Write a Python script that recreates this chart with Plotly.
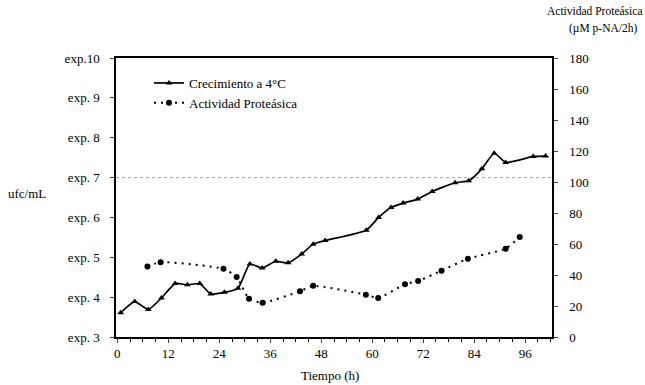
import plotly.graph_objects as go

# Growth at 4°C (log10 ufc/mL)
growth_h = [0.8, 4.1, 7.3, 10.4, 13.6, 16.5, 19.4, 22.0, 25.2, 28.4, 31.2, 34.1, 37.3, 40.2,
            43.4, 46.1, 48.9, 58.6, 61.5, 64.4, 67.3, 70.7, 74.1, 79.5, 82.7, 85.8, 88.7,
            91.4, 97.9, 100.8]
growth_v = [3.61, 3.89, 3.69, 3.98, 4.34, 4.31, 4.34, 4.08, 4.12, 4.22, 4.83, 4.73, 4.90, 4.86,
            5.08, 5.33, 5.42, 5.68, 6.00, 6.25, 6.36, 6.46, 6.65, 6.87, 6.92, 7.22, 7.61,
            7.38, 7.53, 7.54]

# Protease activity (µM p-NA/2h)
prot_h = [7.1, 10.2, 25.0, 28.1, 31.0, 34.2, 43.0, 46.1, 58.5, 61.4, 67.7, 70.8, 76.3, 82.5,
          91.4, 94.7]
prot_v = [45.5, 48.3, 44.0, 38.7, 24.7, 22.1, 29.5, 33.0, 27.3, 25.1, 34.1, 36.1, 42.8, 50.5,
          57.0, 64.5]

left_ticks = [3, 4, 5, 6, 7, 8, 9, 10]
left_labels = ["exp. 3", "exp. 4", "exp. 5", "exp. 6", "exp. 7", "exp. 8", "exp. 9", "exp.10"]
right_ticks = [0, 20, 40, 60, 80, 100, 120, 140, 160, 180]
x_ticks = [0, 12, 24, 36, 48, 60, 72, 84, 96]

FONT = "Liberation Serif"
L, R, T, B = 116, 93, 58, 48
W, H = 645, 385
PW, PH = W - L - R, H - T - B


def px(x):
    return (x - L) / PW


def py(y):
    return (H - B - y) / PH


fig = go.Figure()
fig.add_trace(go.Scatter(
    x=growth_h, y=growth_v, mode="lines+markers", name="Crecimiento a 4°C",
    line=dict(color="black", width=1.7, shape="spline", smoothing=0.5),
    marker=dict(symbol="triangle-up", size=6, color="black"),
    yaxis="y"))
fig.add_trace(go.Scatter(
    x=prot_h, y=prot_v, mode="lines+markers", name="Actividad Proteásica",
    line=dict(color="black", width=2, dash="2px,5px", shape="spline", smoothing=0.5),
    marker=dict(symbol="circle", size=6, color="black"),
    yaxis="y2"))

# faint dotted line at exp. 7
fig.add_shape(type="line", xref="paper", x0=0, x1=1, yref="y", y0=7, y1=7,
              line=dict(color="#aaaaaa", width=1, dash="dot"), layer="below")

fig.update_layout(
    width=W, height=H,
    margin=dict(l=L, r=R, t=T, b=B),
    paper_bgcolor="white", plot_bgcolor="white",
    font=dict(family=FONT, size=13, color="black"),
    showlegend=True,
    legend=dict(x=px(149), y=py(68), xanchor="left", yanchor="top",
                bgcolor="rgba(0,0,0,0)", font=dict(family=FONT, size=13),
                tracegroupgap=0, itemwidth=30),
    xaxis=dict(range=[-0.3, 102.3], tickvals=x_ticks, ticks="outside", ticklen=4,
               showline=True, linecolor="black", linewidth=1.5, mirror=True,
               showgrid=False, zeroline=False,
               minor=dict(dtick=3, ticks="outside", ticklen=3, tickcolor="black"),
               tickfont=dict(family=FONT, size=13)),
    yaxis=dict(range=[3, 10], tickvals=left_ticks, ticktext=left_labels,
               ticks="outside", ticklen=4, showline=True, linecolor="black", linewidth=1.5,
               showgrid=False, zeroline=False, ticklabelstandoff=8,
               tickfont=dict(family=FONT, size=13)),
    yaxis2=dict(range=[0, 180], tickvals=right_ticks, overlaying="y", side="right",
                ticks="outside", ticklen=4, showline=True, linecolor="black", linewidth=1.5,
                showgrid=False, zeroline=False, ticklabelstandoff=9,
                tickfont=dict(family=FONT, size=13)),
)

fig.add_annotation(text="ufc/mL", xref="paper", yref="paper", x=px(6), y=py(193),
                   xanchor="left", yanchor="middle", showarrow=False,
                   font=dict(family=FONT, size=13))
fig.add_annotation(text="Tiempo (h)", xref="paper", yref="paper", x=px(330), y=py(375),
                   xanchor="center", yanchor="middle", showarrow=False,
                   font=dict(family=FONT, size=13))
fig.add_annotation(text="Actividad Proteásica", xref="paper", yref="paper", x=px(644),
                   y=py(11), xanchor="right", yanchor="middle", showarrow=False,
                   font=dict(family=FONT, size=11.5))
fig.add_annotation(text="(µM p-NA/2h)", xref="paper", yref="paper", x=px(603), y=py(28),
                   xanchor="center", yanchor="middle", showarrow=False,
                   font=dict(family=FONT, size=11.5))

fig.write_html("out.html")
